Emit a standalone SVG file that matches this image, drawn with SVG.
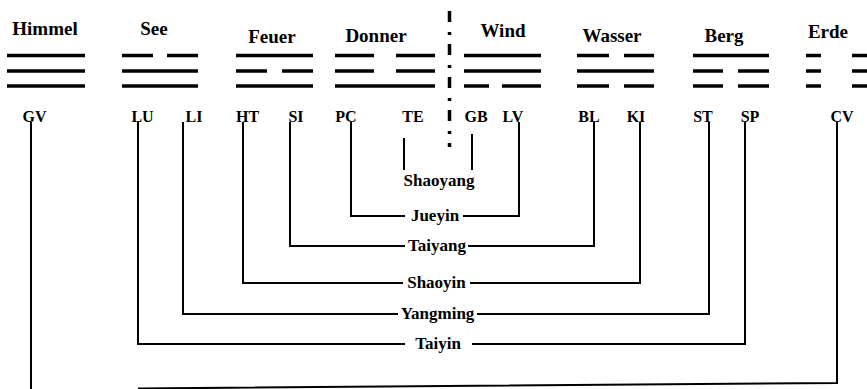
<svg xmlns="http://www.w3.org/2000/svg" width="867" height="389" viewBox="0 0 867 389">
<style>
text{font-family:"Liberation Serif",serif;font-weight:700;fill:#000}
.t{font-size:19px;text-anchor:middle}
.c{font-size:16px;text-anchor:middle}
.m{font-size:17px;text-anchor:middle}
.g line{stroke:#000;stroke-width:3.5}
.k line,.k polyline{stroke:#000;stroke-width:2;fill:none}
</style>
<rect width="867" height="389" fill="#fff"/>
<g id="divider"><line x1="449.5" y1="11" x2="449.5" y2="147" stroke="#000" stroke-width="3.5" stroke-dasharray="11 10 3 9"/></g>
<g id="himmel" class="g"><text class="t" x="45" y="35" font-family="Liberation Serif">Himmel</text>
<line x1="7" y1="55.5" x2="85" y2="55.5"/><line x1="7" y1="71" x2="85" y2="71"/><line x1="7" y1="86" x2="85" y2="86"/></g>
<g id="see" class="g"><text class="t" x="154" y="35">See</text>
<line x1="122" y1="55.5" x2="153" y2="55.5"/><line x1="167" y1="55.5" x2="198" y2="55.5"/><line x1="122" y1="71" x2="198" y2="71"/><line x1="122" y1="86" x2="198" y2="86"/></g>
<g id="feuer" class="g"><text class="t" x="272" y="43">Feuer</text>
<line x1="236" y1="55.5" x2="313" y2="55.5"/><line x1="236" y1="71" x2="267" y2="71"/><line x1="282" y1="71" x2="313" y2="71"/><line x1="236" y1="86" x2="313" y2="86"/></g>
<g id="donner" class="g"><text class="t" x="376" y="42">Donner</text>
<line x1="335" y1="55.5" x2="374" y2="55.5"/><line x1="396" y1="55.5" x2="435" y2="55.5"/><line x1="335" y1="71" x2="374" y2="71"/><line x1="396" y1="71" x2="435" y2="71"/><line x1="335" y1="86" x2="435" y2="86"/></g>
<g id="wind" class="g"><text class="t" x="503" y="37">Wind</text>
<line x1="464" y1="55.5" x2="541" y2="55.5"/><line x1="464" y1="71" x2="541" y2="71"/><line x1="464" y1="86" x2="489" y2="86"/><line x1="502" y1="86" x2="541" y2="86"/></g>
<g id="wasser" class="g"><text class="t" x="612" y="42">Wasser</text>
<line x1="577" y1="55.5" x2="609" y2="55.5"/><line x1="624" y1="55.5" x2="654" y2="55.5"/><line x1="577" y1="71" x2="654" y2="71"/><line x1="577" y1="86" x2="609" y2="86"/><line x1="624" y1="86" x2="654" y2="86"/></g>
<g id="berg" class="g"><text class="t" x="724" y="42">Berg</text>
<line x1="693" y1="55.5" x2="769" y2="55.5"/><line x1="693" y1="71" x2="723" y2="71"/><line x1="738" y1="71" x2="769" y2="71"/><line x1="693" y1="86" x2="723" y2="86"/><line x1="738" y1="86" x2="769" y2="86"/></g>
<g id="erde" class="g"><text class="t" x="828" y="38">Erde</text>
<line x1="806" y1="55.5" x2="821" y2="55.5"/><line x1="852" y1="55.5" x2="867" y2="55.5"/><line x1="806" y1="71" x2="821" y2="71"/><line x1="852" y1="71" x2="867" y2="71"/><line x1="806" y1="86" x2="821" y2="86"/><line x1="852" y1="86" x2="867" y2="86"/></g>
<g id="GV"><text class="c" x="34.5" y="122">GV</text></g>
<g id="LU"><text class="c" x="142.5" y="122">LU</text></g>
<g id="LI"><text class="c" x="194" y="122">LI</text></g>
<g id="HT"><text class="c" x="247.5" y="122">HT</text></g>
<g id="SI"><text class="c" x="296" y="122">SI</text></g>
<g id="PC"><text class="c" x="346" y="122">PC</text></g>
<g id="TE"><text class="c" x="413" y="122">TE</text></g>
<g id="GB"><text class="c" x="476" y="122">GB</text></g>
<g id="LV"><text class="c" x="513" y="122">LV</text></g>
<g id="BL"><text class="c" x="589" y="122">BL</text></g>
<g id="KI"><text class="c" x="636" y="122">KI</text></g>
<g id="ST"><text class="c" x="703" y="122">ST</text></g>
<g id="SP"><text class="c" x="750" y="122">SP</text></g>
<g id="CV"><text class="c" x="842" y="122">CV</text></g>
<g id="shaoyang"><text class="m" x="439" y="186">Shaoyang</text></g>
<g id="jueyin"><text class="m" x="435" y="221">Jueyin</text></g>
<g id="taiyang"><text class="m" x="437" y="251">Taiyang</text></g>
<g id="shaoyin"><text class="m" x="436.5" y="288">Shaoyin</text></g>
<g id="yangming"><text class="m" x="437.5" y="319">Yangming</text></g>
<g id="taiyin"><text class="m" x="438" y="349">Taiyin</text></g>
<g id="connectors" class="k">
<line x1="404" y1="138" x2="404" y2="170"/>
<line x1="472" y1="134" x2="472" y2="170"/>
<polyline points="351,122 351,216 405,216"/><polyline points="463,216 519,216 519,122"/>
<polyline points="290,122 290,246 405,246"/><polyline points="468,246 594,246 594,122"/>
<polyline points="243,122 243,283 403,283" stroke-width="3"/><polyline points="470,283 640,283 640,122"/>
<polyline points="183,122 183,314 398,314"/><polyline points="477,314 709,314 709,122"/>
<polyline points="138,122 138,344 405,344"/><polyline points="472,344 745,344 745,122"/>
<polyline points="837,122 837,383 138,388.5"/>
<line x1="31" y1="122" x2="31" y2="389"/>
</g>
</svg>
